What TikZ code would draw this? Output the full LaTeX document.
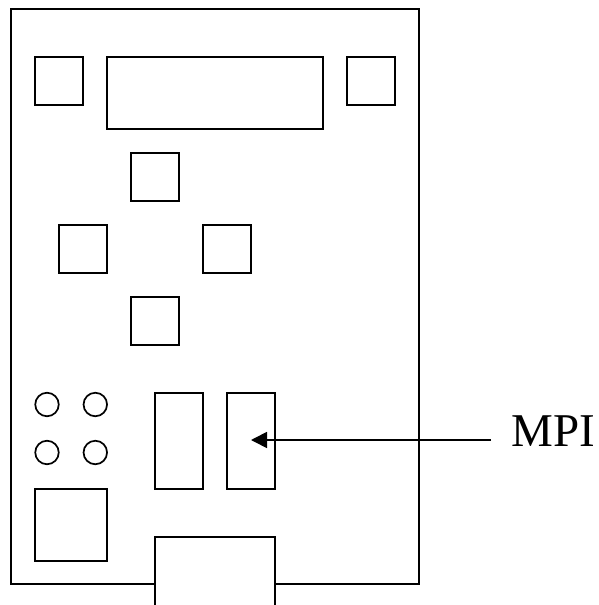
\documentclass[tikz,border=0pt]{standalone}
\usepackage{fontspec}
\usetikzlibrary{arrows.meta}
\setmainfont{Liberation Serif}
\tikzset{x=1pt,y=-1pt,
  part/.style={draw, line width=1.7pt, fill=white},
  led/.style={draw, line width=1.7pt, circle, minimum size=23.5pt, inner sep=0pt}}
\begin{document}
\begin{tikzpicture}[line width=1.7pt]
  \useasboundingbox (0,0) rectangle (598,605);
  \draw (11,9) rectangle (419,584);
  % top row
  \draw[part] (35,57) rectangle (83,105);
  \draw[part] (107,57) rectangle (323,129);
  \draw[part] (347,57) rectangle (395,105);
  % middle
  \draw[part] (131,153) rectangle (179,201);
  \draw[part] (59,225) rectangle (107,273);
  \draw[part] (203,225) rectangle (251,273);
  \draw[part] (131,297) rectangle (179,345);
  % leds
  \node[led] (ledA) at (47,404.5) {};
  \node[led] (ledB) at (95.3,404.5) {};
  \node[led] (ledC) at (47,452.5) {};
  \node[led] (ledD) at (95.3,452.5) {};
  % bottom
  \draw[part] (35,489) rectangle (107,561);
  \draw[part] (155,393) rectangle (203,489);
  \node[part, minimum width=48pt, minimum height=96pt, inner sep=0pt] (mpiport) at (251,441) {};
  \draw[part] (155,537) rectangle (275,610);
  \node[font=\fontsize{47}{47}\selectfont, anchor=base west, inner sep=0pt] (mpilabel) at (511,446) {MPI};
  \coordinate (lineend) at (491,440);
  \draw[-{Stealth[length=16pt,width=16pt,inset=0pt]}] (lineend) -- (lineend -| mpiport.center);
\end{tikzpicture}
\end{document}
